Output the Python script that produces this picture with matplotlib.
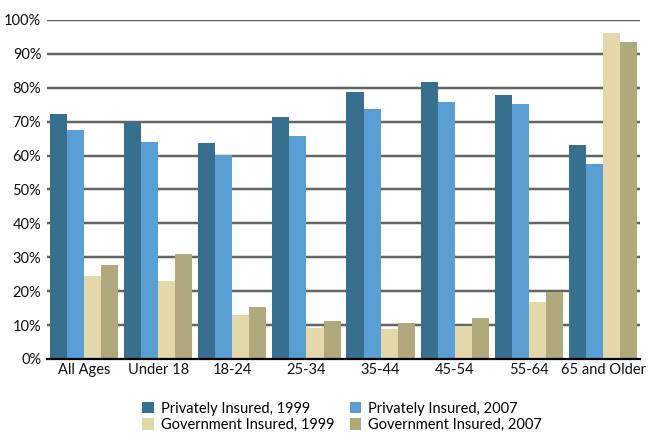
import numpy as np
import matplotlib.pyplot as plt
from matplotlib.ticker import PercentFormatter

plt.rcParams['font.family'] = ['Lato', 'DejaVu Sans']

groups = ['All Ages', 'Under 18', '18-24', '25-34', '35-44', '45-54', '55-64', '65 and Older']
private_1999 = [72.3, 69.8, 63.7, 71.4, 78.8, 81.7, 77.9, 63.1]
private_2007 = [67.6, 64.0, 60.1, 65.8, 73.7, 75.8, 75.2, 57.5]
gov_1999 = [24.5, 23.0, 13.0, 9.2, 8.8, 9.7, 16.8, 96.2]
gov_2007 = [27.7, 31.0, 15.3, 11.2, 10.6, 12.1, 19.8, 93.5]

series = [
    ('Privately Insured, 1999', private_1999, '#376f8f'),
    ('Privately Insured, 2007', private_2007, '#5a9fd4'),
    ('Government Insured, 1999', gov_1999, '#e4d8ab'),
    ('Government Insured, 2007', gov_2007, '#b0a97b'),
]

fig = plt.figure(figsize=(6.6, 4.33), dpi=100)
ax = fig.add_axes([0.071, 0.171, 0.899, 0.783])

x = np.arange(len(groups))
w = 0.23
bars = {}
for i, (name, vals, col) in enumerate(series):
    bars[name] = ax.bar(x + (i - 1.5) * w, vals, w, color=col, label=name, zorder=3)

ax.set_xlim(-0.5, 7.5)
ax.set_ylim(0, 100)
ax.set_yticks(np.arange(0, 101, 10))
ax.yaxis.set_major_formatter(PercentFormatter(decimals=0))
ax.set_xticks(x)
ax.set_xticklabels(groups)

# gridlines with a faint lighter band beneath
for v in range(10, 101, 10):
    ax.axhline(v, color='#cfcfcf', lw=2.6, zorder=1)
    ax.axhline(v, color='#444444', lw=1.1, zorder=2)

for s in ['left', 'right', 'top']:
    ax.spines[s].set_visible(False)
ax.spines['bottom'].set_color('black')
ax.spines['bottom'].set_linewidth(1.6)
ax.spines['bottom'].set_zorder(4)
ax.tick_params(axis='both', length=0, labelsize=10.5, colors='#111111')
ax.tick_params(axis='y', pad=4)
ax.tick_params(axis='x', pad=3)

order = ['Privately Insured, 1999', 'Government Insured, 1999',
         'Privately Insured, 2007', 'Government Insured, 2007']
fig.legend([bars[k] for k in order], order, loc='lower left',
           bbox_to_anchor=(0.196, -0.028), ncol=2, frameon=False, fontsize=10.5,
           handlelength=0.8, handleheight=0.8, handletextpad=0.5,
           columnspacing=1.0, labelspacing=0.15)

fig.savefig('out.png', dpi=100)
